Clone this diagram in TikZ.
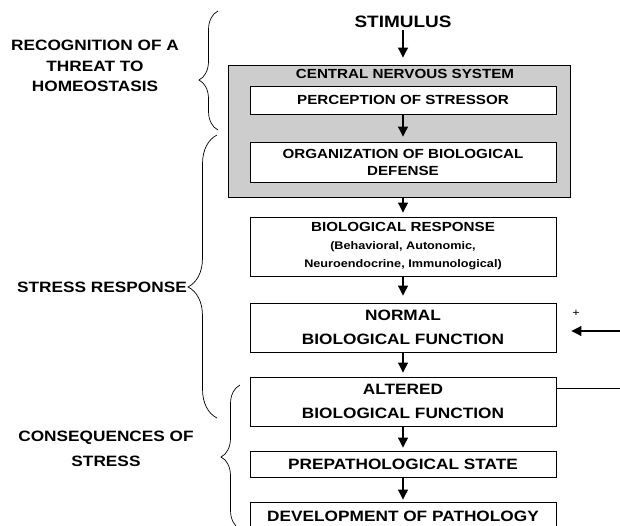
\documentclass[tikz,border=0pt]{standalone}
\usepackage{fontspec}
\setmainfont{Liberation Sans}[FakeStretch=1.15]
\usetikzlibrary{arrows.meta,decorations.pathreplacing}
\definecolor{cnsgray}{RGB}{205,205,205}
\begin{document}
\begin{tikzpicture}[x=1pt,y=-1pt,
  fa/.style={font=\fontsize{13.2}{17}\selectfont\bfseries},
  fb/.style={font=\fontsize{15}{24}\selectfont\bfseries},
  box/.style={draw=black, line width=0.9pt, fill=white, minimum width=306pt, inner sep=0pt, align=center},
  arr/.style={-{Triangle[width=10pt,length=10pt]}, line width=1.1pt, shorten >=5pt},
  brc/.style={decorate, line width=0.7pt},
  lbl/.style={align=center, inner sep=0pt}]
\useasboundingbox (0,0) rectangle (620,525);
\clip (0,0) rectangle (620,525);
\fill[white] (0,0) rectangle (620,525);

% central column
\node[font=\fontsize{16.5}{20}\selectfont\bfseries, inner sep=2pt] (stim) at (403,22) {STIMULUS};
\node[draw=black, line width=0.9pt, fill=cnsgray, minimum width=342pt, minimum height=132pt, inner sep=0pt] (cns) at (399,131) {};
\node[fa, inner sep=0pt] (cnslbl) at (405,74) {CENTRAL NERVOUS SYSTEM};
\node[box, fa, minimum height=28pt] (perc) at (403,100) {PERCEPTION OF STRESSOR};
\node[box, fa, minimum height=40pt] (org) at (403,162) {ORGANIZATION OF BIOLOGICAL\\DEFENSE};
\node[box, minimum height=59pt, font=\fontsize{11}{18}\selectfont\bfseries] (bio) at (403,246.5)
  {{\fontsize{13.2}{17}\selectfont BIOLOGICAL RESPONSE}\\{\fontsize{11}{18}\selectfont (Behavioral, Autonomic,}\\{\fontsize{11}{18}\selectfont Neuroendocrine, Immunological)}};
\node[box, fb, minimum height=49pt] (norm) at (403,327.5) {NORMAL\\BIOLOGICAL FUNCTION};
\node[box, fb, minimum height=49pt] (alt) at (403,401.5) {ALTERED\\BIOLOGICAL FUNCTION};
\node[box, fb, minimum height=26pt] (pre) at (403,464) {PREPATHOLOGICAL STATE};
\node[box, fb, minimum height=28pt, text depth=0pt] (dev) at (403,516) {DEVELOPMENT OF PATHOLOGY};

% arrows
\draw[arr, shorten >=7pt] (stim.south) -- (cns.north -| stim.south);
\draw[arr] (perc.south) -- (org.north);
\draw[arr, shorten >=4pt] (cns.south -| org.south) -- (bio.north);
\draw[arr, shorten >=7pt] (bio.south) -- (norm.north);
\draw[arr, shorten >=4pt] (norm.south) -- (alt.north);
\draw[arr, shorten >=3pt] (alt.south) -- (pre.north);
\draw[arr, shorten >=2pt] (pre.south) -- (dev.north);

% feedback on the right
\coordinate (fbin) at (621,331);
\coordinate (fbout) at (621,388);
\draw[arr, shorten >=15pt] (fbin) -- (fbin -| norm.east);
\node[font=\fontsize{11}{12}\selectfont, inner sep=0pt] (plus) at (576,313) {+};
\draw[line width=0.9pt] (fbout -| alt.east) -- (fbout);

% braces and labels
\draw[brc, decoration={brace, amplitude=19pt, aspect=0.42}] (218,130) -- (218,11);
\node[lbl, fb, font=\fontsize{15}{20.5}\selectfont\bfseries] (recog) at (95,66) {RECOGNITION OF A\\THREAT TO\\HOMEOSTASIS};
\draw[brc, decoration={brace, amplitude=29pt, aspect=0.463}] (217,418) -- (217,135);
\node[lbl, fb, anchor=east] (sresp) at (187,287) {STRESS RESPONSE};
\draw[brc, decoration={brace, amplitude=19pt, aspect=0.5}] (240,529) -- (240,385);
\node[lbl, fb, font=\fontsize{15}{25}\selectfont\bfseries] (conseq) at (106,449) {CONSEQUENCES OF\\STRESS};
\end{tikzpicture}
\end{document}
